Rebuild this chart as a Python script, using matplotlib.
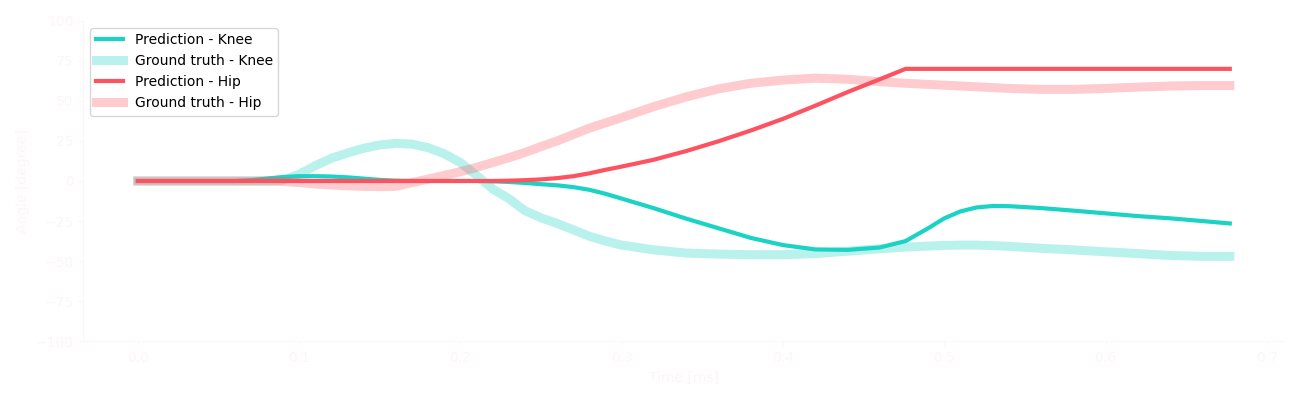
import matplotlib
matplotlib.use("Agg")
import matplotlib.pyplot as plt

# time axis (s) shared by all series
time = [0.0, 0.02, 0.04, 0.06, 0.07, 0.08, 0.09, 0.10, 0.11, 0.12, 0.13, 0.14,
        0.15, 0.16, 0.17, 0.18, 0.19, 0.20, 0.21, 0.22, 0.23, 0.24, 0.25, 0.26,
        0.27, 0.28, 0.29, 0.30, 0.32, 0.34, 0.36, 0.38, 0.40, 0.42, 0.44, 0.46,
        0.476, 0.49, 0.50, 0.51, 0.52, 0.53, 0.54, 0.56, 0.58, 0.60, 0.62, 0.64,
        0.66, 0.677]

pred_knee = [0, 0, 0, 0, 0.5, 1.5, 2.5, 3, 3, 2.8, 2.3, 1.5,
             0.7, 0.2, 0, 0, 0, 0, 0, -0.2, -0.6, -1.2, -2, -2.7,
             -3.8, -5.5, -8, -11, -17, -23.5, -29.5, -35.5, -40, -42.7, -43, -41.5,
             -37.5, -29.5, -23.3, -19, -16.5, -15.6, -15.7, -16.9, -18.5, -20.2, -21.9, -23.3,
             -25, -26.5]

gt_knee = [0, 0, 0, 0, 0, 0, 0.5, 4.2, 9.5, 14.2, 17.5, 20.4,
           22.5, 23.5, 23, 20.8, 17, 11.5, 3.5, -5, -11, -18.5, -23, -26.5,
           -30.5, -34.5, -37.5, -40, -43, -45, -45.6, -46, -46, -45.3, -43.8, -42.3,
           -41.3, -40.6, -40.2, -40, -40, -40.3, -40.8, -42, -43, -44.2, -45.3, -46.5,
           -47, -47]

pred_hip = [0, 0, 0, 0, 0, 0, 0, 0, 0, 0, 0, 0,
            0, 0, 0, 0, 0, 0, 0, 0, 0.2, 0.5, 1, 1.8,
            3, 4.8, 7, 9, 13.3, 18.7, 24.8, 31.5, 38.8, 47, 55.5, 63.5,
            70, 70, 70, 70, 70, 70, 70, 70, 70, 70, 70, 70,
            70, 70]

gt_hip = [0, 0, 0, 0, 0, 0, -0.3, -1, -1.8, -2.5, -3, -3.3,
          -3.5, -3.3, -1, 1.2, 3.5, 5.8, 8.5, 11.5, 14.5, 17.8, 21.5, 25,
          29, 33, 36.3, 39.6, 46.5, 52.5, 57.5, 61, 63, 64.2, 63.5, 62,
          61, 60.3, 59.8, 59.3, 58.8, 58.3, 57.8, 57.2, 57.2, 57.8, 58.6, 59.3,
          59.6, 59.6]

yticks = [-100, -75, -50, -25, 0, 25, 50, 75, 100]

teal = "#1ad3c5"
red = "#fd5360"
faint = "#fdf5f6"

fig, ax = plt.subplots(figsize=(13, 4), dpi=100)
fig.subplots_adjust(left=0.064, right=0.988, top=0.948, bottom=0.147)

ax.plot(time, pred_knee, color=teal, lw=3, label="Prediction - Knee")
ax.plot(time, gt_knee, color=teal, lw=6.5, alpha=0.3, label="Ground truth - Knee")
ax.plot(time, pred_hip, color=red, lw=3, label="Prediction - Hip")
ax.plot(time, gt_hip, color=red, lw=6.5, alpha=0.3, label="Ground truth - Hip")

ax.set_ylim(-100, 100)
ax.set_yticks(yticks)
ax.set_xlabel("Time [ms]", color=faint)
ax.set_ylabel("Angle [degree]", color=faint)
ax.tick_params(colors=faint)
for side in ["top", "right"]:
    ax.spines[side].set_visible(False)
for side in ["left", "bottom"]:
    ax.spines[side].set_color(faint)

ax.legend(loc="upper left", fontsize=10)

fig.savefig("out.png")
